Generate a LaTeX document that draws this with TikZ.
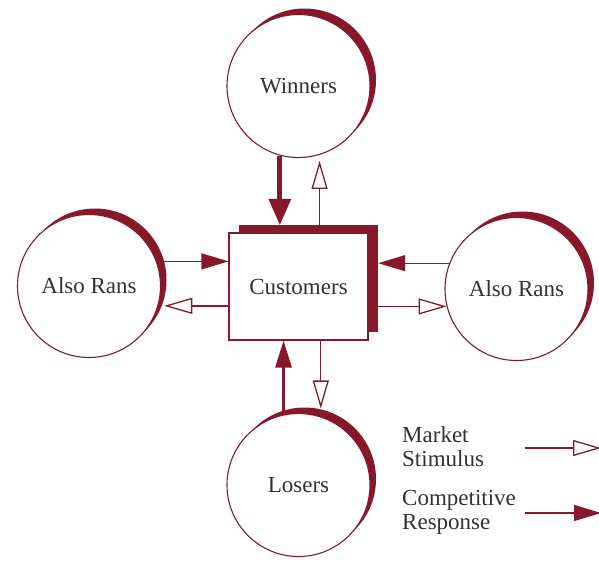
\documentclass[tikz,border=0pt]{standalone}
\usepackage{fontspec}
\newfontfamily\labelfont{Liberation Serif}
\usetikzlibrary{arrows.meta,shadows}
\definecolor{maroon}{RGB}{135,24,42}
\definecolor{ink}{RGB}{50,50,50}

\begin{document}
\begin{tikzpicture}[x=1pt,y=-1pt,font=\labelfont\fontsize{23}{24}\selectfont,text=ink,
    group/.style={circle,draw=maroon,line width=1.1pt,fill=white,minimum size=143pt,inner sep=0pt,
      drop shadow={shadow xshift=6pt,shadow yshift=6pt,fill=maroon,opacity=1}},
    boxshade/.style={rectangle,fill=maroon,minimum width=139pt,minimum height=107pt,inner sep=0pt},
    custbox/.style={rectangle,draw=maroon,line width=1.1pt,fill=white,minimum width=139pt,minimum height=107pt,inner sep=0pt},
    stim/.style={draw=maroon,line width=1.3pt,-{Triangle[open,length=28pt,width=16pt]}},
    resp/.style={draw=maroon,line width=1.3pt,-{Triangle[length=27pt,width=16pt]}},
    bigresp/.style={draw=maroon,line width=5pt,-{Triangle[length=26pt,width=23pt,line width=0pt]}},
    legend/.style={anchor=north west,align=left,inner sep=0pt}]
  \useasboundingbox (0,0) rectangle (599,560);

  % the four groups round the customers
  \node[group] (win) at (298.5,86) {Winners};
  \node[group] (lar) at (89,286) {Also Rans};
  \node[group] (rar) at (516.5,289) {Also Rans};
  \node[group] (los) at (298.5,485) {Losers};

  % customers box with its offset shade
  \node[boxshade] (custsh) at (308.5,278.5) {};
  \node[custbox] (cust) at (298.5,286.5) {Customers};

  % winners
  \draw[bigresp] (win.-105) -- (win.-105 |- custsh.north);
  \draw[stim,shorten >=6pt] (custsh.north -| win.-73) -- (win.-73);
  % also rans, left
  \draw[resp] (lar.20) -- (lar.20 -| cust.west);
  \draw[stim,shorten >=6pt] (cust.west |- lar.-16) -- (lar.-16);
  % also rans, right
  \draw[resp] (rar.159) -- (rar.159 -| custsh.east);
  \draw[stim] (custsh.east |- rar.-166) -- (rar.-166);
  % losers
  \draw[resp,line width=3pt] (los.102) -- (los.102 |- cust.south);
  \draw[stim,shorten >=8pt] (cust.south -| los.72) -- (los.72);

  % legend
  \node[legend] (stimtxt) at (402,426) {Market\\Stimulus};
  \node[legend] (resptxt) at (402,490) {Competitive\\Response};
  \coordinate (stima) at (525,448);
  \coordinate (stimb) at (601,448);
  \coordinate (respa) at (525,513);
  \coordinate (respb) at (601,513);
  \draw[stim] (stima) -- (stimb);
  \draw[resp] (respa) -- (respb);
\end{tikzpicture}
\end{document}
